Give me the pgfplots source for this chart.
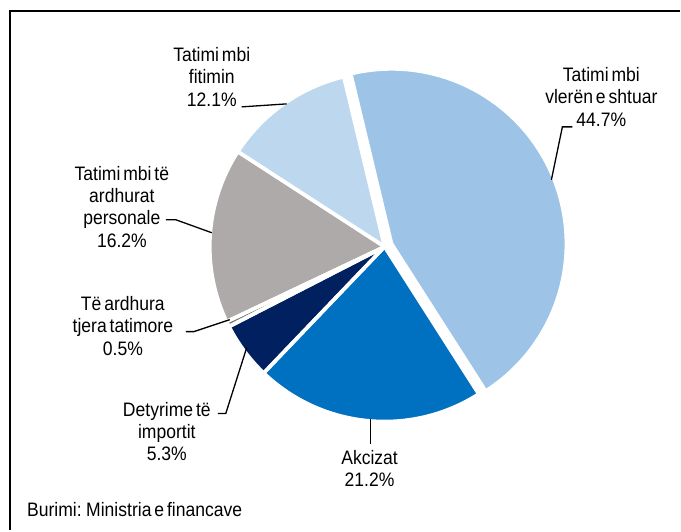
\documentclass[border=0pt]{standalone}
\usepackage{fontspec}
\setmainfont{Liberation Sans}[FakeStretch=0.9, WordSpace=0.6]
\usepackage{pgfplots}
\pgfplotsset{compat=1.18}
\definecolor{cVAT}{RGB}{157,195,230}
\definecolor{cFit}{RGB}{189,215,238}
\definecolor{cPer}{RGB}{174,170,170}
\definecolor{cOth}{RGB}{118,118,118}
\definecolor{cDet}{RGB}{0,32,96}
\definecolor{cAkc}{RGB}{0,112,192}
% #1,#2 centre (px), #3 start angle, #4 share in percent, #5 colour
\newcommand{\slicefill}[5]{%
  \fill[#5] (axis cs:#1,#2) -- ++(#3:175pt) arc[start angle=#3, end angle={#3-3.6*#4}, radius=175pt] -- cycle;}
\newcommand{\sliceedge}[4]{%
  \draw[white, line width=3.6pt, line join=round] (axis cs:#1,#2) -- ++(#3:175pt) arc[start angle=#3, end angle={#3-3.6*#4}, radius=175pt] -- cycle;}
\begin{document}
\begin{tikzpicture}
\begin{axis}[width=681pt, height=531pt, scale only axis,
  xmin=0, xmax=681, ymin=0, ymax=531, y dir=reverse,
  hide axis, clip=false]
\path (axis cs:0,0) rectangle (axis cs:681,531);
% frame
\draw[line width=1.5pt] (axis cs:10,531) -- (axis cs:10,11) -- (axis cs:681,11);
% slices: share (%) of tax revenues, clockwise from 103.5 degrees
\slicefill{392}{244}{103.5}{44.7}{cVAT}
\slicefill{385}{247}{-57.42}{21.2}{cAkc}
\slicefill{385}{247}{-133.74}{5.3}{cDet}
\slicefill{385}{247}{-152.82}{0.5}{cOth}
\slicefill{385}{247}{-154.62}{16.2}{cPer}
\slicefill{385}{247}{-212.94}{12.1}{cFit}
\sliceedge{392}{244}{103.5}{44.7}
\sliceedge{385}{247}{-57.42}{21.2}
\sliceedge{385}{247}{-133.74}{5.3}
\sliceedge{385}{247}{-152.82}{0.5}
\sliceedge{385}{247}{-154.62}{16.2}
\sliceedge{385}{247}{-212.94}{12.1}
% leader lines
\tikzset{lead/.style={line width=1.3pt}}
\draw[lead] (axis cs:242,107) -- (axis cs:287,104);
\draw[lead] (axis cs:573,127) -- (axis cs:563,127) -- (axis cs:552,180);
\draw[lead] (axis cs:166,220) -- (axis cs:176,220) -- (axis cs:212,233);
\draw[lead] (axis cs:186,332) -- (axis cs:194,332) -- (axis cs:230,320);
\draw[lead] (axis cs:218,414) -- (axis cs:226,414) -- (axis cs:247,348);
\draw[lead] (axis cs:371,419) -- (axis cs:371,444);
% labels
\tikzset{lbl/.style={align=center, inner sep=0pt, font=\fontsize{19.5}{22.5}\selectfont}}
\node[lbl] at (axis cs:212,77) {Tatimi mbi\\fitimin\\12.1\%};
\node[lbl] at (axis cs:602,97) {Tatimi mbi\\vlerën e shtuar\\44.7\%};
\node[lbl] at (axis cs:122,207) {Tatimi mbi të\\ardhurat\\personale\\16.2\%};
\node[lbl] at (axis cs:123,326) {Të ardhura\\tjera tatimore\\0.5\%};
\node[lbl] at (axis cs:167,432) {Detyrime të\\importit\\5.3\%};
\node[lbl] at (axis cs:370,469) {Akcizat\\21.2\%};
\node[lbl, anchor=base west] at (axis cs:27,517) {Burimi: Ministria e financave};
\end{axis}
\end{tikzpicture}
\end{document}
